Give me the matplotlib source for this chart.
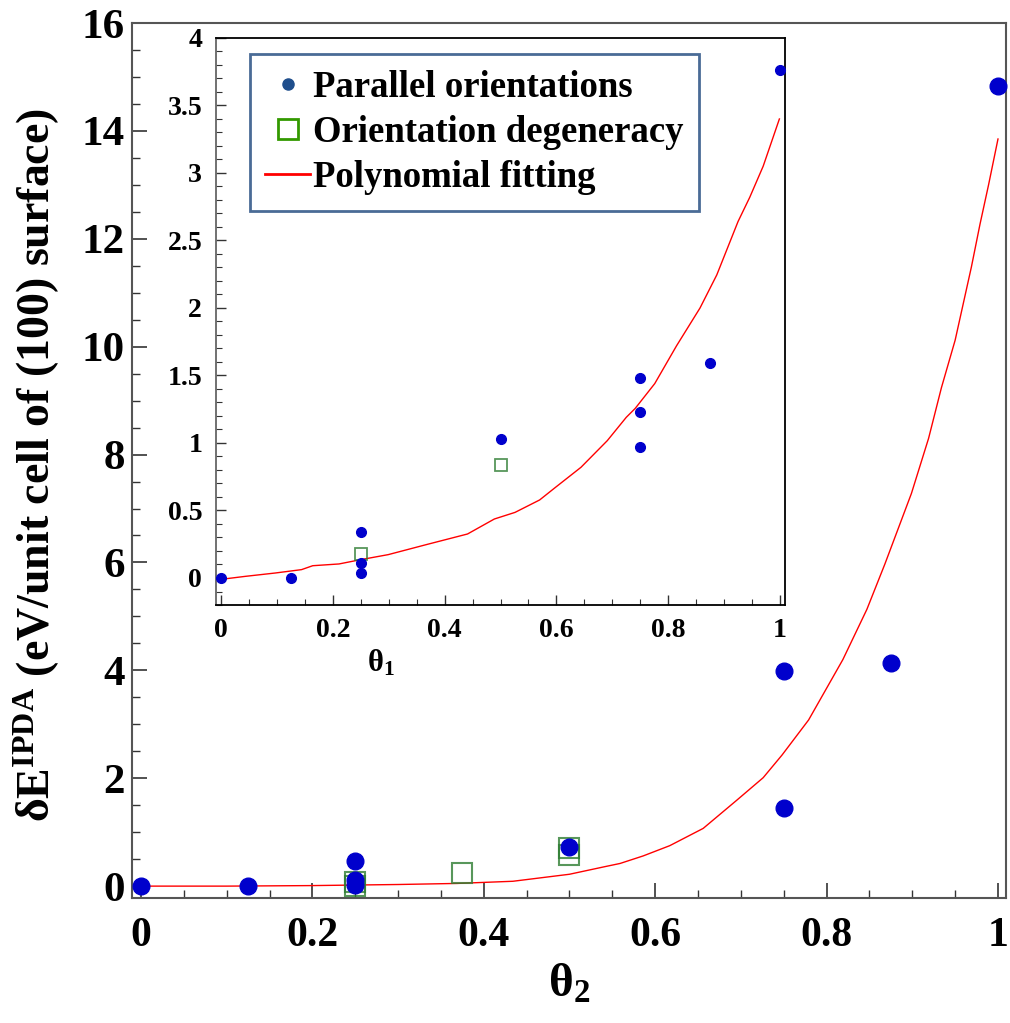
import matplotlib
matplotlib.use('Agg')
import matplotlib.pyplot as plt
from matplotlib.lines import Line2D
from matplotlib.ticker import MultipleLocator, FuncFormatter

plt.rcParams['font.family'] = ['Liberation Serif', 'DejaVu Serif']
plt.rcParams['font.weight'] = 'bold'
plt.rcParams['axes.labelweight'] = 'bold'
plt.rcParams['mathtext.fontset'] = 'custom'
plt.rcParams['mathtext.rm'] = 'Liberation Serif:bold'
plt.rcParams['mathtext.bf'] = 'Liberation Serif:bold'
plt.rcParams['mathtext.it'] = 'Liberation Serif:bold'

# main plot data (theta_2)
main_par_x = [0.0, 0.125, 0.25, 0.25, 0.25, 0.5, 0.75, 0.75, 0.875, 1.0]
main_par_y = [0.0, 0.0, 0.46, 0.12, 0.02, 0.72, 3.98, 1.44, 4.13, 14.83]
main_deg_x = [0.25, 0.25, 0.375, 0.5, 0.5]
main_deg_y = [0.07, 0.0, 0.235, 0.70, 0.57]
main_fit_x = [0.0, 0.1, 0.2, 0.3, 0.369, 0.434, 0.5, 0.541, 0.559, 0.586, 0.617,
              0.656, 0.695, 0.726, 0.748, 0.779, 0.819, 0.847, 0.868, 0.899,
              0.919, 0.934, 0.950, 0.969, 0.979, 0.989, 1.0]
main_fit_y = [0.0, 0.0, 0.01, 0.03, 0.05, 0.09, 0.22, 0.36, 0.42, 0.56, 0.75,
              1.07, 1.59, 2.01, 2.43, 3.08, 4.20, 5.13, 5.97, 7.28,
              8.30, 9.24, 10.12, 11.48, 12.27, 13.0, 13.85]

# inset data (theta_1)
ins_par_x = [0.0, 0.125, 0.25, 0.25, 0.25, 0.5, 0.75, 0.75, 0.75, 0.875, 1.0]
ins_par_y = [0.0, 0.0, 0.34, 0.11, 0.04, 1.03, 1.48, 1.23, 0.97, 1.59, 3.76]
ins_deg_x = [0.25, 0.5]
ins_deg_y = [0.18, 0.84]
ins_fit_x = [0.0, 0.043, 0.097, 0.144, 0.164, 0.211, 0.25, 0.299, 0.367, 0.441,
             0.489, 0.526, 0.570, 0.597, 0.644, 0.691, 0.725, 0.741, 0.776,
             0.815, 0.857, 0.887, 0.925, 0.946, 0.970, 0.999]
ins_fit_y = [-0.01, 0.012, 0.037, 0.062, 0.091, 0.104, 0.136, 0.173, 0.247, 0.326,
             0.437, 0.486, 0.578, 0.667, 0.82, 1.017, 1.19, 1.256, 1.44,
             1.72, 2.00, 2.245, 2.64, 2.82, 3.05, 3.40]

blue = '#0000CC'
green = '#2E7D32'

fig = plt.figure(figsize=(10.1, 10.23), dpi=100)

# main axes
ax = fig.add_axes([0.1307, 0.1222, 0.8653, 0.8553])
ax.plot(main_fit_x, main_fit_y, color='red', lw=1.0, zorder=2)
ax.plot(main_deg_x, main_deg_y, 's', ms=14, mfc='none', mec=green, mew=1.5, alpha=0.8, zorder=3)
ax.plot(main_par_x, main_par_y, 'o', ms=12, color=blue, mec=blue, zorder=4, clip_on=False)
ax.set_xlim(-0.0105, 1.0093)
ax.set_ylim(-0.22, 16)
ax.xaxis.set_major_locator(MultipleLocator(0.2))
ax.xaxis.set_minor_locator(MultipleLocator(0.05))
ax.yaxis.set_major_locator(MultipleLocator(2))
ax.yaxis.set_minor_locator(MultipleLocator(0.5))
ax.xaxis.set_major_formatter(FuncFormatter(lambda v, p: '%g' % round(v, 2)))
ax.tick_params(which='both', direction='in', colors='#333333', labelcolor='black')
ax.tick_params(which='major', length=11, width=1.2)
ax.tick_params(which='minor', length=6, width=1.0)
ax.tick_params(axis='x', which='major', labelsize=30, pad=14)
ax.tick_params(axis='y', which='major', labelsize=31, pad=5)
for s in ax.spines.values():
    s.set_color('#555555')
    s.set_linewidth(1.5)
ax.set_xlabel(r'$\mathbf{θ_2}$', fontsize=34)
ax.xaxis.set_label_coords(0.5, -0.075)
ax.set_ylabel(r'$\mathbf{δE^{IPDA}}$ (eV/unit cell of (100) surface)', fontsize=33)
ax.yaxis.set_label_coords(-0.08, 0.495)

# inset axes
ins = fig.add_axes([0.2139, 0.4086, 0.5633, 0.5543])
ins.plot(ins_fit_x, ins_fit_y, color='red', lw=1.0, zorder=2)
ins.plot(ins_deg_x, ins_deg_y, 's', ms=9, mfc='none', mec=green, mew=1.3, alpha=0.8, zorder=3)
ins.plot(ins_par_x, ins_par_y, 'o', ms=7, color=blue, mec=blue, zorder=4, clip_on=False)
ins.set_xlim(-0.009, 1.009)
ins.set_ylim(-0.2, 4.0)
ins.xaxis.set_major_locator(MultipleLocator(0.2))
ins.xaxis.set_minor_locator(MultipleLocator(0.05))
ins.yaxis.set_major_locator(MultipleLocator(0.5))
ins.yaxis.set_minor_locator(MultipleLocator(0.1))
ins.xaxis.set_major_formatter(FuncFormatter(lambda v, p: '%g' % round(v, 2)))
ins.yaxis.set_major_formatter(FuncFormatter(lambda v, p: '%g' % round(v, 2)))
ins.tick_params(which='both', direction='in', colors='#333333', labelcolor='black')
ins.tick_params(which='major', length=7, width=1.0, labelsize=20)
ins.tick_params(which='minor', length=4, width=0.8)
ins.tick_params(axis='x', pad=9)
ins.tick_params(axis='y', pad=10)
for s in ins.spines.values():
    s.set_color('black')
    s.set_linewidth(1.3)
ins.spines['left'].set_color('#666666')
ins.set_xlabel(r'$\mathbf{θ_1}$', fontsize=22)
ins.xaxis.set_label_coords(0.29, -0.075)

handles = [
    Line2D([], [], ls='none', marker='o', ms=8, color='#1F4E8C'),
    Line2D([], [], ls='none', marker='s', ms=15, mfc='none', mec='#339900', mew=2),
    Line2D([], [], color='red', lw=2),
]
labels = ['Parallel orientations', 'Orientation degeneracy', 'Polynomial fitting']
leg = fig.legend(handles, labels, loc='upper left', bbox_to_anchor=(0.2475, 0.947),
                 bbox_transform=fig.transFigure, fontsize=26.5, frameon=True,
                 fancybox=False, framealpha=1, edgecolor='#4A6B96',
                 handlelength=1.2, handletextpad=0.1, labelspacing=0.28,
                 borderpad=0.42, borderaxespad=0)
leg.get_frame().set_linewidth(2)

fig.savefig('out.png', dpi=100)
